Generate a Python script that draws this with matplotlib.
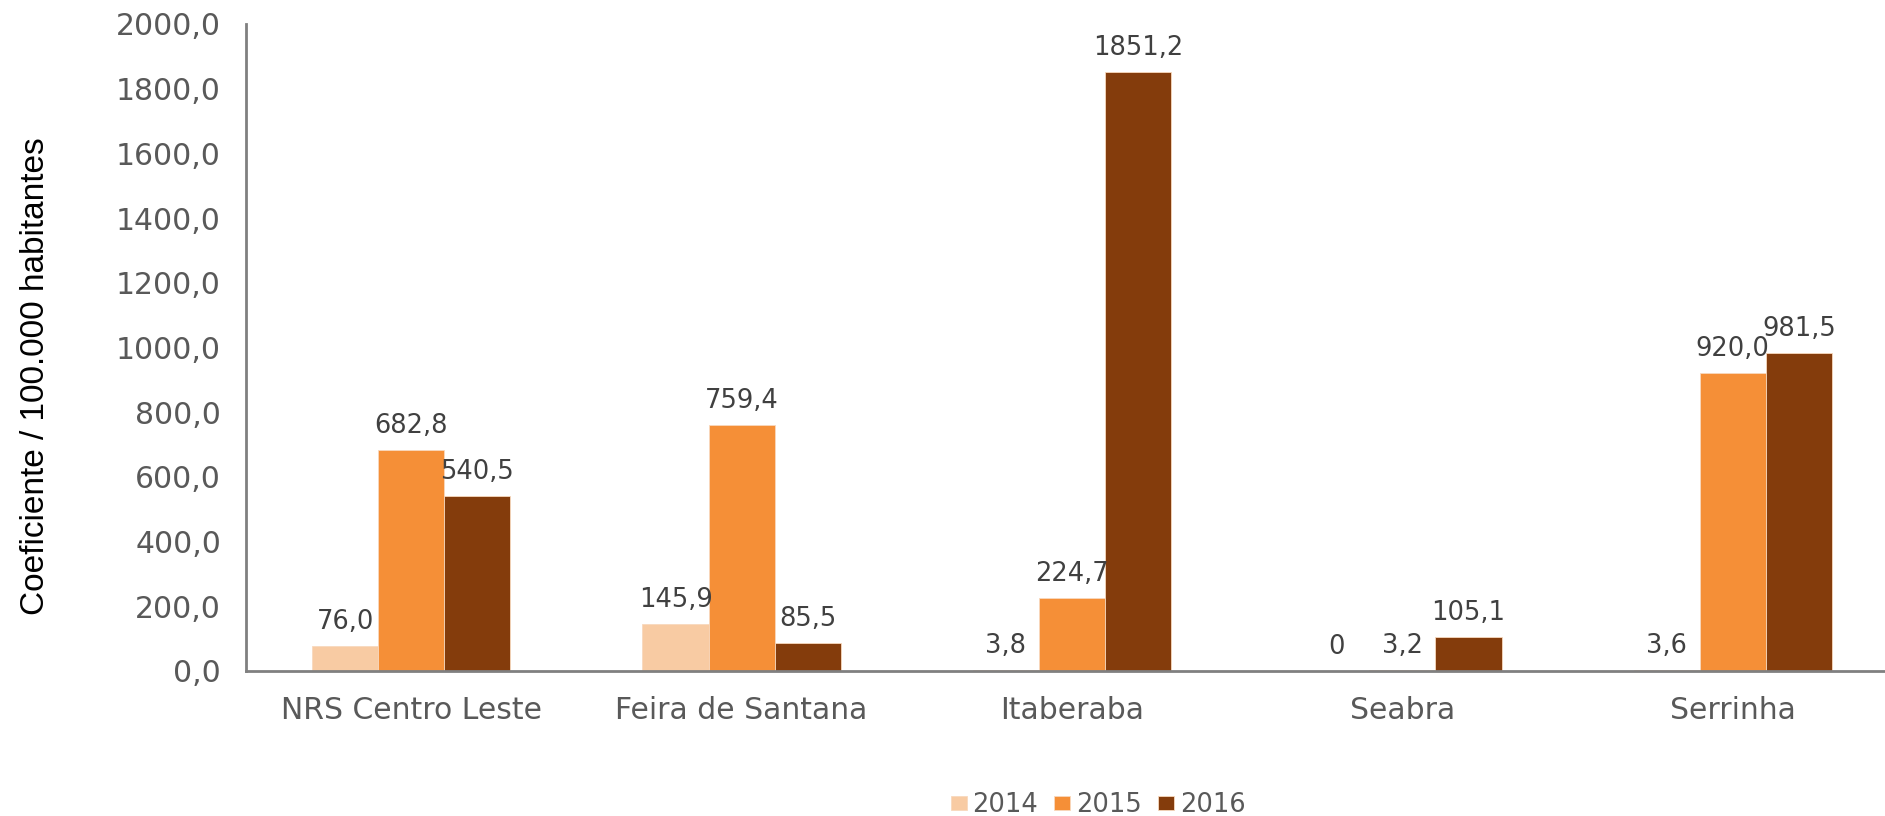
import numpy as np
import matplotlib
matplotlib.use("Agg")
import matplotlib.pyplot as plt

plt.rcParams['font.family'] = ['DejaVu Sans']

# data
regioes = ['NRS Centro Leste', 'Feira de Santana', 'Itaberaba', 'Seabra', 'Serrinha']
anos = ['2014', '2015', '2016']
v2014 = [76.0, 145.9, 3.8, 0.0, 3.6]
v2015 = [682.8, 759.4, 224.7, 3.2, 920.0]
v2016 = [540.5, 85.5, 1851.2, 105.1, 981.5]
rotulos_2014 = ['76,0', '145,9', '3,8', '0', '3,6']
rotulos_2015 = ['682,8', '759,4', '224,7', '3,2', '920,0']
rotulos_2016 = ['540,5', '85,5', '1851,2', '105,1', '981,5']
yticks = [0, 200, 400, 600, 800, 1000, 1200, 1400, 1600, 1800, 2000]

cores = ['#F8CBA3', '#F58F37', '#843C0C']
series = [v2014, v2015, v2016]
rotulos = [rotulos_2014, rotulos_2015, rotulos_2016]

fig = plt.figure(figsize=(18.85, 8.16), dpi=100)
ax = fig.add_axes([0.1305, 0.1777, 0.8764, 0.7929])

x = np.arange(len(regioes))
w = 0.2
for i, (vals, cor, ano, rot) in enumerate(zip(series, cores, anos, rotulos)):
	pos = x + (i - 1) * w
	ax.bar(pos, vals, width=w, color=cor, label=ano,
		   edgecolor='#F8D9BE', linewidth=0.6)
	for xb, v, r in zip(pos, vals, rot):
		ax.annotate(r, (xb, v), xytext=(0, 8), textcoords='offset points',
					ha='center', va='bottom', fontsize=18.5, color='#404040')

ax.set_xlim(-0.5, len(regioes) - 0.5)
ax.set_ylim(0, 2000)
ax.set_yticks(yticks)
ax.set_yticklabels([f'{t:.1f}'.replace('.', ',') for t in yticks])
ax.set_xticks(x)
ax.set_xticklabels(regioes, fontsize=21.5)
ax.tick_params(axis='both', length=0, colors='#595959')
ax.tick_params(axis='y', pad=18, labelsize=21.5)
ax.tick_params(axis='x', pad=18)

for s in ['top', 'right']:
	ax.spines[s].set_visible(False)
for s in ['left', 'bottom']:
	ax.spines[s].set_color('#808080')
	ax.spines[s].set_linewidth(2)

ax.set_ylabel('Coeficiente / 100.000 habitantes', fontsize=24, color='black',
			  family='Liberation Sans')
ax.yaxis.set_label_coords(-0.118, 0.455)

ax.legend(loc='center', bbox_to_anchor=(1098 / 1885, 11 / 816),
		  bbox_transform=fig.transFigure, ncol=3, frameon=False,
		  fontsize=18.5, labelcolor='#595959', handlelength=0.62,
		  handleheight=0.5, handletextpad=0.23, columnspacing=0.62)

fig.savefig('out.png', dpi=100)
